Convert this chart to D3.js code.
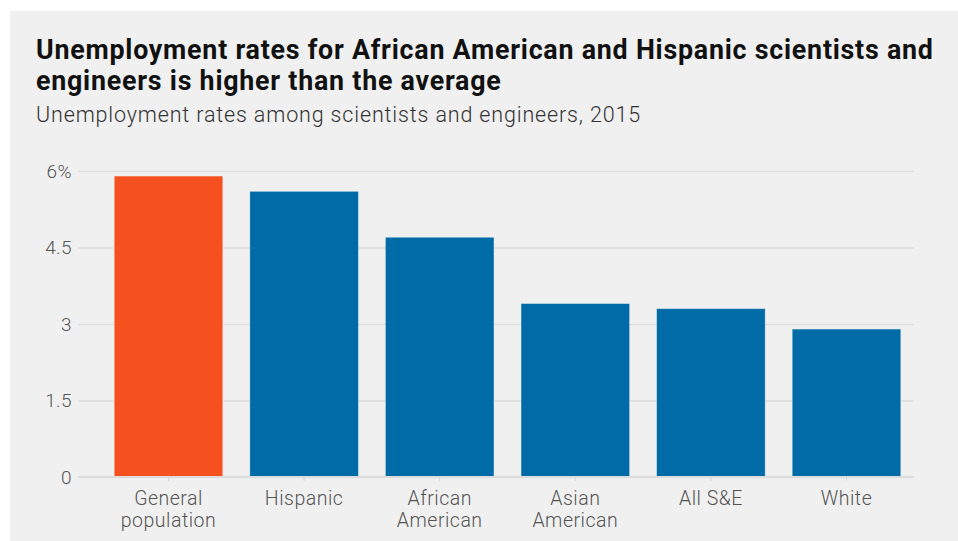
<!DOCTYPE html>
<html>
<head>
<meta charset="utf-8">
<script src="https://cdn.jsdelivr.net/npm/d3@7"></script>
<style>
  html, body { margin: 0; padding: 0; background: #ffffff; }
  svg { display: block; }
  .title { font-family: Roboto, "Noto Sans", sans-serif; font-weight: 700; fill: #111; }
  .subtitle { font-family: Roboto, "Noto Sans", sans-serif; font-weight: 300; fill: #333; }
  .tick text { font-family: Roboto, "Noto Sans", sans-serif; font-weight: 300; fill: #555; }
</style>
</head>
<body>
<script>
// Unemployment rates among scientists and engineers, 2015
const categories = ["General population", "Hispanic", "African American", "Asian American", "All S&E", "White"];
const rates = [5.9, 5.6, 4.7, 3.4, 3.3, 2.9];
const highlight = ["General population"];
const yTicks = [0, 1.5, 3, 4.5, 6];
const yTickLabels = ["0", "1.5", "3", "4.5", "6%"];

const W = 958, H = 541;
const svg = d3.select("body").append("svg").attr("width", W).attr("height", H);

// card background
svg.append("rect").attr("x", 10).attr("y", 11).attr("width", W - 10).attr("height", H - 11).attr("fill", "#f0f0f0");

svg.append("text").attr("class", "title").attr("x", 36).attr("y", 59).attr("font-size", 26.8)
  .attr("letter-spacing", 0.77)
  .text("Unemployment rates for African American and Hispanic scientists and");
svg.append("text").attr("class", "title").attr("x", 36).attr("y", 90).attr("font-size", 26.8)
  .attr("letter-spacing", 0.77)
  .text("engineers is higher than the average");
svg.append("text").attr("class", "subtitle").attr("x", 36).attr("y", 122).attr("font-size", 21.5)
  .attr("letter-spacing", 0.85)
  .text("Unemployment rates among scientists and engineers, 2015");

const plotLeft = 78, plotRight = 914, yTop = 171, yBottom = 477;

const x = d3.scaleBand().domain(categories).range([100.7, 914.3]).paddingInner(0.2).paddingOuter(0.1);
const y = d3.scaleLinear().domain([0, 6]).range([yBottom, yTop]);

// horizontal gridlines with labels
const yAxis = svg.append("g").attr("transform", `translate(${plotLeft},0)`)
  .call(d3.axisLeft(y).tickValues(yTicks).tickSize(-(plotRight - plotLeft)).tickPadding(6)
    .tickFormat((d, i) => yTickLabels[i]));
yAxis.select(".domain").remove();
yAxis.selectAll(".tick line").attr("stroke", "#dddddd").attr("stroke-width", 1.3);
yAxis.selectAll(".tick text").attr("font-size", 19).attr("letter-spacing", 0.4);

// bars
svg.append("g").selectAll("rect").data(categories).join("rect")
  .attr("x", d => x(d))
  .attr("y", (d, i) => y(rates[i]))
  .attr("width", x.bandwidth())
  .attr("height", (d, i) => y(0) - y(rates[i]))
  .attr("fill", d => highlight.includes(d) ? "#f5511e" : "#006ba6")
  .attr("stroke", "rgba(255,255,255,0.35)")
  .attr("stroke-width", 0.8);

// baseline and category labels
const xAxis = svg.append("g").attr("transform", `translate(0,${yBottom})`)
  .call(d3.axisBottom(x).tickSize(4).tickPadding(10));
xAxis.select(".domain").attr("stroke", "#dddddd").attr("stroke-width", 2)
  .attr("d", `M${plotLeft},0H${plotRight}`);
xAxis.selectAll(".tick line").attr("stroke", "#d6d6d6").attr("stroke-width", 1);
xAxis.selectAll(".tick text").attr("font-size", 19.5).attr("letter-spacing", 0.5).each(function(d) {
  const t = d3.select(this);
  const words = d.split(" ");
  t.text(null);
  if (words.length > 1 && d !== "All S&E") {
    t.append("tspan").attr("x", 0).attr("dy", "0.71em").text(words[0]);
    t.append("tspan").attr("x", 0).attr("dy", "1.15em").text(words.slice(1).join(" "));
    t.attr("dy", null);
  } else {
    t.text(d);
  }
});
</script>
</body>
</html>
